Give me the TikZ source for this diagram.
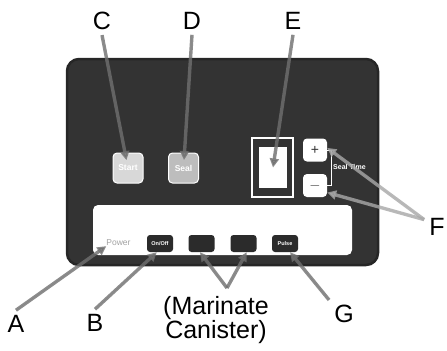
\documentclass[tikz,border=0pt]{standalone}
\usepackage{fontspec}
\setmainfont{Liberation Sans}
\usetikzlibrary{arrows.meta}
\definecolor{panelGrey}{HTML}{333333}
\definecolor{rimGrey}{HTML}{262626}
\definecolor{startGrey}{HTML}{D8D8D8}
\definecolor{sealGrey}{HTML}{BDBDBD}
\definecolor{keyDark}{HTML}{2B2B2B}
\definecolor{arrowGrey}{HTML}{6F6F6F}
\definecolor{fGrey}{HTML}{A8A8A8}
\definecolor{powerGrey}{HTML}{A3A3A3}

\begin{document}
\begin{tikzpicture}
[x=1bp,y=-1bp,
  panelDecorate/.style={draw=rimGrey,line width=2.5bp,fill=panelGrey,rounded corners=12bp},%
  softDecorate/.style={shape=rectangle,draw=white,line width=1bp,rounded corners=4bp,inner sep=0pt,
    minimum width=30bp,minimum height=30bp,text=white,font=\bfseries\fontsize{8.5bp}{8.5bp}\selectfont},%
  keyDecorate/.style={shape=rectangle,fill=keyDark,rounded corners=3bp,inner sep=0pt,
    minimum width=26bp,minimum height=17bp,text=white,font=\bfseries\fontsize{5.5bp}{5.5bp}\selectfont},%
  timeDecorate/.style={shape=rectangle,fill=white,rounded corners=4bp,inner sep=0pt,
    minimum width=24bp,minimum height=23bp,text=panelGrey,font=\fontsize{14bp}{14bp}\selectfont},%
  labelDecorate/.style={inner sep=5bp,font=\fontsize{25bp}{24bp}\selectfont},%
  arrowDecorate/.style={-{Triangle[length=9bp,width=9bp]},line width=3.4bp,draw=arrowGrey,fill=arrowGrey,opacity=0.8}]
\useasboundingbox (0,0) rectangle (447,350);
%% panel and white strip
\draw[panelDecorate] (67,59) rectangle (378,265);
\fill[white,rounded corners=5bp] (93,205) rectangle (352,255);
%% upper keys and display
\node (startKey) at (128,168) [softDecorate,fill=startGrey] {Start};
\node (sealKey) at (183.5,168) [softDecorate,fill=sealGrey] {Seal};
\node (screen) at (272.5,167.5) [draw=white,line width=1.5bp,inner sep=0pt,minimum width=41bp,minimum height=59bp] {};
\node (screenIn) at (273,167.5) [fill=white,inner sep=0pt,minimum width=28bp,minimum height=41bp] {};
\node (plusKey) at (315,150) [timeDecorate] {+};
\node (minusKey) at (315,185.5) [timeDecorate] {$-$};
\draw[white,line width=0.8bp] (plusKey.east) -- ++(4,0) |- (minusKey.east);
\node (sealTime) at (333,167) [anchor=west,inner sep=0pt,text=white,font=\bfseries\fontsize{7bp}{7bp}\selectfont] {Seal Time};
%% lower keys
\node (power) at (118.5,243) [text=powerGrey,inner sep=0pt,font=\fontsize{8.5bp}{8.5bp}\selectfont] {Power};
\foreach \nodename/\x/\caption in {onOff/160/On\slash Off, marA/201.5/, marB/243.5/, pulse/285/Pulse}
  \node (\nodename) at (\x,243.5) [keyDecorate] {\caption};
%% letters
\foreach \nodename/\x/\y in {A/16/324, B/95/323, C/102/21, D/192/21, E/293/21, F/437/227, G/344/314}
  \node (\nodename) at (\x,\y) [labelDecorate] {\nodename};
\node (marinate) at (216,320) [labelDecorate,align=center] {(Marinate\\Canister)};
\coordinate (marJoin) at (227,288);
%% arrows
\path
\foreach \startnode/\endnode/\gap in {C.south/startKey.center/8bp, D.south/sealKey.center/8bp,
  E.south/screenIn.center/0bp, A.north/power.south west/0bp, B.north/onOff.-110/0bp,
  marJoin/marA.-100/0bp, marJoin/marB.-70/0bp, G.north west/pulse.-60/0bp}
{
  (\startnode) edge[arrowDecorate,shorten >=\gap] (\endnode)
};
\path (F.150) edge[arrowDecorate,draw=fGrey,fill=fGrey] (plusKey.10)
      (F.150) edge[arrowDecorate,draw=fGrey,fill=fGrey] (minusKey.-30);
\end{tikzpicture}
\end{document}
